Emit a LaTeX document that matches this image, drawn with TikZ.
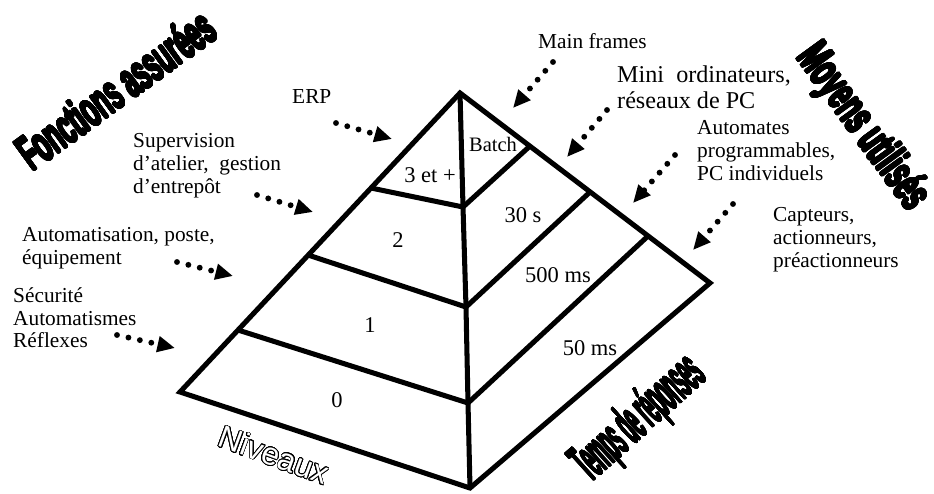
\documentclass[tikz,border=0pt]{standalone}
\usepackage{fontspec}
\setmainfont{Liberation Serif}
\newfontfamily\titlefont{Liberation Sans}
\usepackage{graphicx}
\usepackage{contour}
\usepackage{tikz}
\usetikzlibrary{arrows.meta}
\contournumber{32}
\tikzset{
  pyr/.style={line width=4.3pt, line join=miter},
  dotarrow/.style={line width=5pt, line cap=round, dash pattern=on 0pt off 10pt, -{Triangle[length=15pt,width=13pt]}},
  txt/.style={font=\fontsize{18.2}{19.6}\selectfont, align=left, inner sep=0pt, anchor=north west},
  lvl/.style={font=\fontsize{19.2}{20}\selectfont, inner sep=0pt},
  title/.style={font=\titlefont\bfseries\fontsize{#1}{#1}\selectfont, inner sep=0pt},
}
\newcommand{\heavy}[2]{\contourlength{#1}\contour{black}{#2}}% [thickening]{text}

\begin{document}
\begin{tikzpicture}[x=0.03cm, y=-0.03cm]
	\useasboundingbox (0,0) rectangle (934,493);
	% corners of the pyramid
	\coordinate (top) at (460,93);
	\coordinate (left) at (180,392);
	\coordinate (front) at (470,488);
	\coordinate (right) at (710,283);
	% level limits on the three edges
	\coordinate (f3) at (463,207); \coordinate (f2) at (466,307); \coordinate (f1) at (468,403);
	\coordinate (l3) at (371,188); \coordinate (l2) at (308,255); \coordinate (l1) at (238,330);
	\coordinate (r3) at (530,146); \coordinate (r2) at (590,192); \coordinate (r1) at (648,236);

	\draw[pyr] (top) -- (left) -- (front) -- (right) -- cycle;
	\draw[pyr] (top) -- (f3) -- (f2) -- (f1) -- (front);
	\draw[pyr] (l3) -- (f3) -- (r3);
	\draw[pyr] (l2) -- (f2) -- (r2);
	\draw[pyr] (l1) -- (f1) -- (r1);

	\node[lvl] (n3) at (430,175) {3 et +};
	\node[lvl, font=\fontsize{17.5}{19}\selectfont] (batch) at (493,144) {Batch};
	\node[lvl] (n2) at (398,240) {2};
	\node[lvl] (t30) at (523,215) {30 s};
	\node[lvl] (n1) at (370,325) {1};
	\node[lvl] (t500) at (558,275) {500 ms};
	\node[lvl] (n0) at (337,400) {0};
	\node[lvl] (t50) at (590,348) {50 ms};

	% functions (left) and means (right)
	\node[txt] (erp) at (292,89) {ERP};
	\node[txt] (superv) at (133,133) {Supervision\\d’atelier,\ \ gestion\\d’entrepôt};
	\node[txt] (automat) at (22,227) {Automatisation, poste,\\équipement};
	\node[txt] (secu) at (13,287) {Sécurité\\Automatismes\\Réflexes};
	\node[txt] (mainfr) at (538,33) {Main frames};
	\node[txt, font=\fontsize{20.6}{21.5}\selectfont] (mini) at (617,66) {Mini\ \ ordinateurs,\\réseaux de PC};
	\node[txt] (autoprog) at (697,120) {Automates\\programmables,\\PC individuels};
	\node[txt] (capt) at (773,207) {Capteurs,\\actionneurs,\\préactionneurs};

	\coordinate (erpA) at (336,123); \coordinate (erpB) at (392,139);
	\coordinate (supA) at (257,195); \coordinate (supB) at (313,212);
	\coordinate (autA) at (177,262); \coordinate (autB) at (233,276);
	\coordinate (secA) at (117,335); \coordinate (secB) at (175,348);
	\coordinate (mfA) at (553,62); \coordinate (mfB) at (513,108);
	\coordinate (miA) at (607,110); \coordinate (miB) at (567,157);
	\coordinate (apA) at (675,155); \coordinate (apB) at (633,203);
	\coordinate (caA) at (733,204); \coordinate (caB) at (693,250);

	\draw[dotarrow] (erpA) -- (erpB);
	\draw[dotarrow] (supA) -- (supB);
	\draw[dotarrow] (autA) -- (autB);
	\draw[dotarrow] (secA) -- (secB);
	\draw[dotarrow] (mfA) -- (mfB);
	\draw[dotarrow] (miA) -- (miB);
	\draw[dotarrow] (apA) -- (apB);
	\draw[dotarrow] (caA) -- (caB);

	% titles
	\node[title=42, rotate=36] (fonct) at (116,90) {\scalebox{0.5}[1]{\heavy{1.2pt}{Fonctions assurées}}};
	\node[title=40, rotate=-54] (moyens) at (862,128) {\scalebox{0.55}[1]{\heavy{1.2pt}{Moyens utilisés}}};
	\node[rotate=-20, text=white, font=\titlefont\fontsize{27}{27}\selectfont] (niv) at (274,455) {\contourlength{0.5pt}\contour{black}{Niveaux}};
	\node[title=48, rotate=42] (temps) at (640,420) {\scalebox{0.3}[1]{\heavy{0.8pt}{Temps de réponses}}};
\end{tikzpicture}
\end{document}
